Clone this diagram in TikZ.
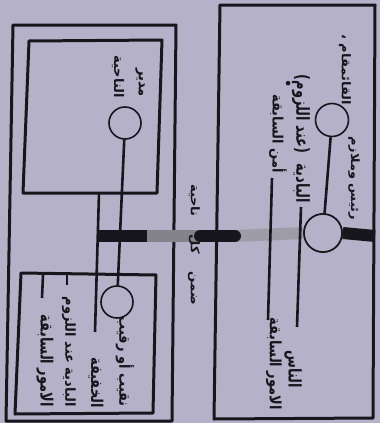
\documentclass[tikz,border=0pt]{standalone}
\usepackage{fontspec}
\newfontfamily\arabicfont[Script=Arabic]{DejaVu Sans}
\TeXXeTstate=1
\definecolor{paper}{RGB}{181,177,201}
\definecolor{ink}{RGB}{22,22,28}
\definecolor{bargray}{RGB}{132,130,138}
\definecolor{barlight}{RGB}{158,156,166}
\newcommand{\ar}[1]{\beginR #1\endR}
\tikzset{
  box/.style={draw=ink, line width=3pt, line join=round},
  ring/.style={circle, draw=ink, fill=paper, line width=1.6pt, inner sep=0pt, minimum size=#1},
  wire/.style={draw=ink, line width=2.6pt},
  tick/.style={draw=ink, line width=2.6pt},
  lbl/.style={font=\arabicfont\bfseries\fontsize{13}{15}\selectfont, text=ink, inner sep=0pt, anchor=east, xscale=#1, rotate=-90},
  lbl/.default=1,
  barseg/.style={line width=12pt}
}
\begin{document}
\begin{tikzpicture}[x=1pt,y=-1pt]
\fill[paper] (0,0) rectangle (380,423);
\useasboundingbox (0,0) rectangle (380,423);
% boxes
\draw[box] (13,25) -- (176,25) -- (172,421) -- (6,421) -- cycle;
\draw[box] (29,41) -- (162,40) -- (157,193) -- (23,193) -- cycle;
\draw[box] (21,273) -- (156,275) -- (153,413) -- (15,414) -- cycle;
\draw[box] (220,5) -- (375,5) -- (373,418) -- (214,419) -- cycle;
% circles
\node[ring=32pt] (c1) at (125,123) {};
\node[ring=32pt] (c2) at (117,302) {};
\node[ring=33pt] (c3) at (332,120) {};
\node[ring=38pt] (c4) at (323,233) {};
% named coordinates
\coordinate (l1a) at (99,193);
\coordinate (l1b) at (95,332);
\coordinate (b0) at (99,236);
\coordinate (b1) at (147,236);
\coordinate (b2) at (200,236);
\coordinate (b3) at (235,236);
\coordinate (b4) at (375,236);
\coordinate (r1a) at (301,207);
\coordinate (r1b) at (297,327);
\coordinate (r2a) at (272,178);
\coordinate (r2b) at (268,320);
\coordinate (k1a) at (43,275);
\coordinate (k1b) at (42,298);
\coordinate (k2a) at (67,275);
\coordinate (k2b) at (67,285);
% bar
\draw[barseg, draw=ink] (b0) -- (b1);
\draw[barseg, draw=bargray] (b1) -- (b2);
\draw[barseg, draw=barlight] (b3) -- (c4.west);
\draw[barseg, draw=ink, line cap=round] (b2) -- (b3);
\draw[barseg, draw=ink] (c4.east) -- (b4);
% lines
\draw[wire] (l1a) -- (l1b);
\draw[wire] (c1) -- (c2);
\draw[wire] (c3) -- (c4);
\draw[wire] (r1a) -- (r1b);
\draw[wire] (r2a) -- (r2b);
\draw[tick] (k1a) -- (k1b);
\draw[tick] (k2a) -- (k2b);
\node[ring=38pt] (c4b) at (c4) {};
% labels right box
\node[lbl=0.92] (t1) at (345,105) {\ar{القائمقام ،}};
\node[lbl=0.88] (t2) at (354,220) {\ar{رئيس وملازم}};
\node[lbl=1.38] (t3) at (301,203) {\ar{البادية \hspace{6pt}(عند اللزوم)}};
\node[lbl=1.1] (t4) at (278,173) {\ar{أمن السابقة}};
\node[lbl] (t4d) at (287,88) {\ar{•}};
\node[lbl=1.34] (t5) at (293,388) {\ar{الناس}};
\node[lbl=1.2] (t6) at (274,410) {\ar{الامور السابقة}};
% centre
\node[lbl=0.92] (tc) at (194,305) {\ar{ضمن\hspace{18pt}كل\hspace{18pt}ناحية}};
% left boxes
\node[lbl=1.1] (t7) at (140,97) {\ar{مدير}};
\node[lbl=1.02] (t8) at (118,98) {\ar{الناحية}};
\node[lbl=1.15] (t9) at (125,407) {\ar{نقيب أو رقيب}};
\node[lbl=1.25] (t10) at (96,408) {\ar{الخفيفة}};
\node[lbl=1.06] (t11) at (69,407) {\ar{البادية عند اللزوم}};
\node[lbl=1.3] (t12) at (45,407) {\ar{الامور السابقة}};
\end{tikzpicture}
\end{document}
